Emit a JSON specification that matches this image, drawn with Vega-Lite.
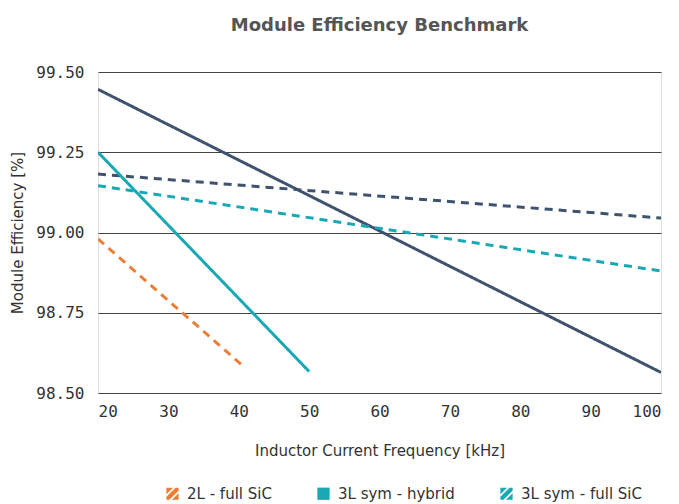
{
  "$schema": "https://vega.github.io/schema/vega-lite/v6.json",
  "width": 563,
  "height": 321,
  "autosize": "none",
  "padding": {"left": 98, "top": 72, "right": 18, "bottom": 111},
  "background": "white",
  "title": {
    "text": "Module Efficiency Benchmark",
    "font": "DejaVu Sans",
    "fontSize": 18,
    "fontWeight": "bold",
    "color": "#555555",
    "anchor": "middle",
    "offset": 29
  },
  "data": {
    "values": [
      {"series": "Reference - hybrid", "freq": 20, "eff": 99.446},
      {"series": "Reference - hybrid", "freq": 100, "eff": 98.564},
      {"series": "Reference - full SiC", "freq": 20, "eff": 99.182},
      {"series": "Reference - full SiC", "freq": 100, "eff": 99.045},
      {"series": "3L sym - hybrid", "freq": 20, "eff": 99.25},
      {"series": "3L sym - hybrid", "freq": 50, "eff": 98.567},
      {"series": "3L sym - full SiC", "freq": 20, "eff": 99.146},
      {"series": "3L sym - full SiC", "freq": 100, "eff": 98.88},
      {"series": "2L - full SiC", "freq": 20, "eff": 98.98},
      {"series": "2L - full SiC", "freq": 40.4, "eff": 98.588}
    ]
  },
  "mark": {"type": "line", "strokeWidth": 3, "clip": true},
  "encoding": {
    "x": {
      "field": "freq",
      "type": "quantitative",
      "scale": {"domain": [20, 100], "nice": false},
      "axis": {
        "values": [20, 30, 40, 50, 60, 70, 80, 90, 100],
        "title": "Inductor Current Frequency [kHz]",
        "grid": false,
        "domain": false,
        "ticks": false,
        "labelFont": "DejaVu Sans Mono",
        "labelFontSize": 16,
        "labelColor": "#333333",
        "labelPadding": 10,
        "titleFont": "DejaVu Sans",
        "titleFontSize": 15,
        "titleFontWeight": "normal",
        "titleColor": "#333333",
        "titlePadding": 24
      }
    },
    "y": {
      "field": "eff",
      "type": "quantitative",
      "scale": {"domain": [98.5, 99.5], "nice": false, "zero": false},
      "axis": {
        "values": [98.5, 98.75, 99.0, 99.25, 99.5],
        "format": ".2f",
        "title": "Module Efficiency [%]",
        "grid": true,
        "gridColor": "#444444",
        "gridWidth": 1.2,
        "domain": false,
        "ticks": false,
        "labelFont": "DejaVu Sans Mono",
        "labelFontSize": 16,
        "labelColor": "#333333",
        "labelPadding": 14,
        "titleFont": "DejaVu Sans",
        "titleFontSize": 15,
        "titleFontWeight": "normal",
        "titleColor": "#333333",
        "titlePadding": 10
      }
    },
    "color": {
      "field": "series",
      "type": "nominal",
      "scale": {
        "domain": ["2L - full SiC", "3L sym - hybrid", "3L sym - full SiC", "Reference - hybrid", "Reference - full SiC"],
        "range": ["#ec7f37", "#19a8b4", "#19a8b4", "#40536e", "#40536e"]
      },
      "legend": {
        "values": ["2L - full SiC", "3L sym - hybrid", "3L sym - full SiC"],
        "orient": "none",
        "direction": "horizontal",
        "legendX": 67,
        "legendY": 414,
        "title": null,
        "labelFont": "DejaVu Sans",
        "labelFontSize": 15,
        "labelColor": "#333333",
        "symbolSize": 150,
        "symbolStrokeWidth": 0,
        "columnPadding": 44,
        "labelOffset": 7,
        "encode": {
          "symbols": {
            "update": {
              "shape": {"signal": "datum.value == '3L sym - hybrid' ? 'square' : 'M-1,-1L0.1,-1L-1,0.1Z M0.5,-1L1,-1L1,-0.5L-0.5,1L-1,1L-1,0.5Z M1,-0.1L1,1L-0.1,1Z'"},
              "fill": {"scale": "color", "field": "value"},
              "fillOpacity": {"value": 1},
              "strokeWidth": {"value": 0}
            }
          }
        }
      }
    },
    "strokeDash": {
      "field": "series",
      "type": "nominal",
      "scale": {
        "domain": ["2L - full SiC", "3L sym - hybrid", "3L sym - full SiC", "Reference - hybrid", "Reference - full SiC"],
        "range": [[8, 6], [1, 0], [8, 6], [1, 0], [8, 6]]
      },
      "legend": null
    }
  }
}
